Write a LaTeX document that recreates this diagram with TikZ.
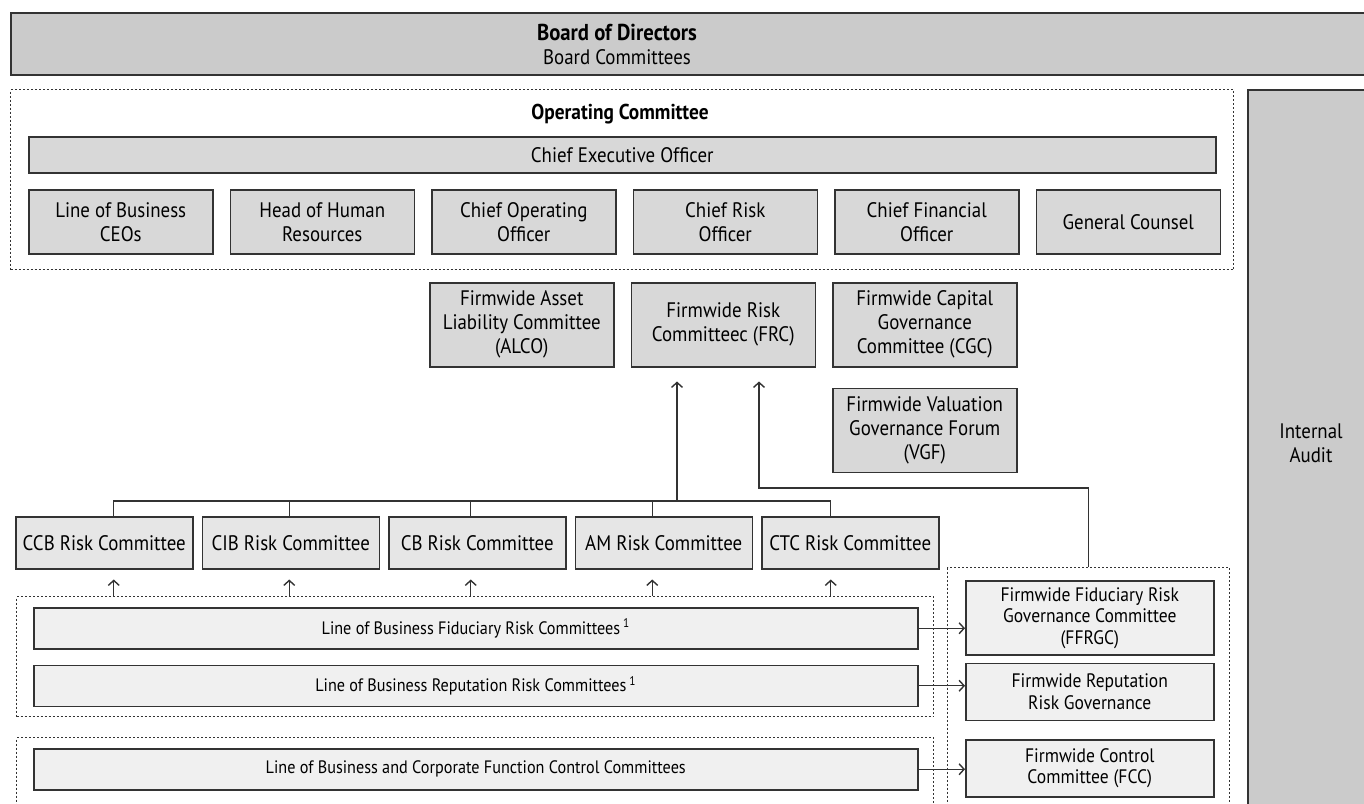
\documentclass[tikz,border=0pt]{standalone}
\usepackage{fontspec}
\setmainfont{PT Sans}[FakeStretch=0.9]
\usepackage{xcolor}
\usepackage{tikz}
\usetikzlibrary{arrows.meta, positioning}

\definecolor{boardgray}{HTML}{CBCBCB}
\definecolor{opgray}{HTML}{D8D8D8}
\definecolor{riskgray}{HTML}{E6E6E6}
\definecolor{bargray}{HTML}{F0F0F0}
\definecolor{edgegray}{HTML}{333333}

\newcommand{\boxfont}{\fontsize{21}{24}\selectfont}
\newcommand{\barfont}{\fontsize{18}{21}\selectfont}
\newcommand{\sidefont}{\fontsize{19.5}{21.5}\selectfont}
\newcommand{\headfont}{\fontsize{21.5}{25}\selectfont}

\tikzset{
    topbar/.style={rectangle, draw=edgegray, line width=1.5pt, fill=boardgray, inner sep=0pt},
    groupbox/.style={rectangle, draw=edgegray, line width=1.2pt, dash pattern=on 2pt off 2pt, inner sep=0pt},
    opbox/.style={rectangle, draw=edgegray, line width=1.5pt, fill=opgray, align=center, minimum width=184pt, minimum height=64pt, inner sep=0pt, font=\boxfont},
    riskbox/.style={rectangle, draw=edgegray, line width=1.5pt, fill=riskgray, align=center, minimum width=177pt, minimum height=52pt, inner sep=0pt, font=\boxfont},
    lobbar/.style={rectangle, draw=edgegray, line width=1.5pt, fill=bargray, align=center, minimum width=884pt, minimum height=41pt, inner sep=0pt, font=\barfont},
    sidebox/.style={rectangle, draw=edgegray, line width=1.5pt, fill=bargray, align=center, minimum width=248pt, inner sep=0pt, font=\sidefont},
    link/.style={draw=edgegray, line width=1.4pt},
    arrow/.style={-{Straight Barb[length=5pt, width=11pt]}, draw=edgegray, line width=1.4pt},
}

\begin{document}
\begin{tikzpicture}[x=1pt, y=-1pt, node distance=16pt]
    \useasboundingbox (0,0) rectangle (1364,803);
    \clip (0,0) rectangle (1364,803);

    % Board
    \node[topbar, anchor=north west, minimum width=1370pt, minimum height=62pt] (board) at (10,12) {};
    \node[align=center, font=\boxfont] (boardtxt) at (617,44) {{\fontsize{23}{25}\selectfont\bfseries Board of Directors}\\Board Committees};

    % Internal audit column
    \node[topbar, anchor=north west, minimum width=135pt, minimum height=730pt] (audit) at (1247,89) {};
    \node[align=center, font=\boxfont] (audittxt) at (1311,443) {Internal\\Audit};

    % Operating committee
    \node[groupbox, anchor=north west, minimum width=1223pt, minimum height=180pt] (opgrp) at (10,89) {};
    \node[font=\headfont\bfseries] (optitle) at (620,114) {Operating Committee};
    \node[opbox, anchor=north west, minimum width=1187pt, minimum height=36pt] (ceo) at (28,136) {Chief Executive Officer};
    \node[opbox, anchor=north west] (lob) at (28,189) {Line of Business\\CEOs};
    \node[opbox, right=of lob] (hr) {Head of Human\\Resources};
    \node[opbox, right=of hr] (coo) {Chief Operating\\Officer};
    \node[opbox, right=of coo] (cro) {Chief Risk\\Officer};
    \node[opbox, right=of cro] (cfo) {Chief Financial\\Officer};
    \node[opbox, right=of cfo] (gc) {General Counsel};

    % Firmwide committees
    \node[opbox, anchor=north west, minimum height=84pt] (alco) at (429,282) {Firmwide Asset\\Liability Committee\\(ALCO)};
    \node[opbox, right=of alco, minimum height=84pt] (frc) {Firmwide Risk\\Committeec (FRC)};
    \node[opbox, right=of frc, minimum height=84pt] (cgc) {Firmwide Capital\\Governance\\Committee (CGC)};
    \node[opbox, below=20pt of cgc, minimum height=84pt] (vgf) {Firmwide Valuation\\Governance Forum\\(VGF)};

    % LOB risk committees
    \node[riskbox, anchor=north west] (ccb) at (15,516) {CCB Risk Committee};
    \node[riskbox, right=8pt of ccb] (cib) {CIB Risk Committee};
    \node[riskbox, right=8pt of cib] (cb) {CB Risk Committee};
    \node[riskbox, right=8pt of cb] (am) {AM Risk Committee};
    \node[riskbox, right=8pt of am] (ctc) {CTC Risk Committee};

    % LOB fiduciary / reputation
    \node[groupbox, anchor=north west, minimum width=917pt, minimum height=120pt] (lobgrp) at (16,596) {};
    \node[lobbar, anchor=north west] (fidbar) at (33,607) {Line of Business Fiduciary Risk Committees\,\textsuperscript{1}};
    \node[lobbar, below=15pt of fidbar] (repbar) {Line of Business Reputation Risk Committees\,\textsuperscript{1}};

    % control committees
    \node[groupbox, anchor=north west, minimum width=917pt, minimum height=100pt] (ctlgrp) at (16,737) {};
    \node[lobbar, anchor=north west] (ctlbar) at (33,748) {Line of Business and Corporate Function Control Committees};

    % Firmwide governance (right)
    \node[groupbox, anchor=north west, minimum width=282pt, minimum height=260pt] (fwgrp) at (947,567) {};
    \node[sidebox, anchor=north west, minimum height=74pt] (ffrgc) at (965,580) {Firmwide Fiduciary Risk\\Governance Committee\\(FFRGC)};
    \node[sidebox, below=7pt of ffrgc, minimum height=57pt] (fwrep) {Firmwide Reputation\\Risk Governance};
    \node[sidebox, anchor=north west, minimum height=57pt] (fcc) at (965,739) {Firmwide Control\\Committee (FCC)};

    % Risk committees up to FRC
    \coordinate (bus) at (677,501);
    \draw[link] ([xshift=9.5pt]ccb.north) |- (bus) -| ([xshift=-19.5pt]ctc.north);
    \foreach \rc/\dx in {cib/-1.5, cb/-6.5, am/-11.5}
        \draw[link] ([xshift=\dx pt]\rc.north) -- ([xshift=\dx pt]\rc.north |- bus);
    \draw[arrow, shorten >=14pt] (bus) -- (bus |- frc.south);

    % LOB committees up to risk committees
    \foreach \rc/\dx in {ccb/9.5, cib/-1.5, cb/-6.5, am/-11.5, ctc/-19.5}
        \draw[arrow, shorten >=10pt] ([xshift=\dx pt]\rc.south |- lobgrp.north) -- ([xshift=\dx pt]\rc.south);

    % right group up to FRC
    \coordinate (frcturn) at (759,488);
    \draw[arrow, shorten >=14pt] (fwgrp.north) |- (frcturn) -- (frcturn |- frc.south);

    % bars to firmwide bodies
    \draw[arrow] (fidbar.east) -- (fidbar.east -| ffrgc.west);
    \draw[arrow] (repbar.east) -- (repbar.east -| fwrep.west);
    \draw[arrow] (ctlbar.east) -- (ctlbar.east -| fcc.west);
\end{tikzpicture}
\end{document}
